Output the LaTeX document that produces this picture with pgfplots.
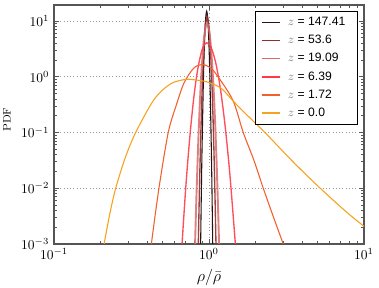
\documentclass[border=0pt]{standalone}
\usepackage[no-math]{fontspec}
\usepackage{pgfplots}
\pgfplotsset{compat=1.18}
\newfontfamily\legendfont{Liberation Sans}
\definecolor{cA}{HTML}{2A1212}
\definecolor{cB}{HTML}{8E2E2E}
\definecolor{cC}{HTML}{D86A6A}
\definecolor{cD}{HTML}{FF3A48}
\definecolor{cE}{HTML}{F2602E}
\definecolor{cF}{HTML}{F7A21E}
\definecolor{frame}{HTML}{555555}
\begin{document}
\begin{tikzpicture}
\begin{axis}[
  scale only axis, width=229.6pt, height=177pt,
  xmode=log, ymode=log,
  xmin=0.1, xmax=10, ymin=1e-3, ymax=19.4,
  axis line style={frame, line width=0.9pt},
  tick style={frame, line width=0.6pt},
  major tick length=3.5pt, minor tick length=2pt,
  tick pos=both, tick align=inside,
  grid=major, major grid style={dotted, gray!80, line width=0.6pt},
  ytick={1e-3,1e-2,1e-1,1,10},
  xtick={0.1,1,10},
  tick label style={font=\normalsize},
  xlabel={$\rho/\bar{\rho}$},
  ylabel={$\mathrm{PDF}$},
  xlabel style={font=\large, at={(axis description cs:0.5,-0.14)}, anchor=center},
  ylabel style={font=\footnotesize, at={(axis description cs:-0.152,0.52)}, anchor=center},
  legend cell align=left,
  legend image code/.code={\draw[#1, line width=1.1pt, opacity=1] (0pt,0pt) -- (14pt,0pt);},
  legend style={at={(axis description cs:0.981,0.976)}, anchor=north east,
    draw=black, line width=1pt, fill=white, font=\legendfont\small,
    inner xsep=4pt, inner ysep=2.5pt, row sep=1.6pt,
    nodes={inner xsep=5pt}},
]
\addplot[cA, line width=0.8pt, smooth] coordinates {
(0.8831,0.001) (0.8913,0.006501) (0.9016,0.05070) (0.9226,1.197) (0.9441,7.968)
(0.9661,15) (0.9886,7.968) (1.0116,1.197) (1.0351,0.0507) (1.0471,0.006501) (1.0568,0.001)};
\addlegendentry{\textcolor{gray}{$z$} = 147.41}
\addplot[cB, line width=1pt, opacity=0.9, smooth] coordinates {
(0.8531,0.001) (0.8670,0.00871) (0.8831,0.07311) (0.9078,0.8892) (0.9397,6.258)
(0.9727,12) (1.0069,6.258) (1.0423,0.8892) (1.0715,0.07311) (1.0914,0.00871) (1.1092,0.001)};
\addlegendentry{\textcolor{gray}{$z$} = 53.6}
\addplot[cC, line width=1.4pt, opacity=0.85, smooth] coordinates {
(0.8128,0.001) (0.8318,0.009016) (0.8560,0.09183) (0.8861,0.7962) (0.9279,4.909)
(0.9716,9.0) (1.0174,4.909) (1.0654,0.7962) (1.1029,0.09183) (1.1350,0.009016) (1.1614,0.001)};
\addlegendentry{\textcolor{gray}{$z$} = 19.09}
\addplot[cD, line width=1pt, opacity=0.9, smooth] coordinates {
(0.6699,0.001) (0.7079,0.01023) (0.7499,0.0762) (0.7943,0.3784) (0.8414,1.247)
(0.9016,3.030) (0.9661,4.074) (1.0351,3.273) (1.1092,1.698) (1.1885,0.5689)
(1.2735,0.1233) (1.3646,0.01722) (1.4791,0.001)};
\addlegendentry{\textcolor{gray}{$z$} = 6.39}
\addplot[cE, line width=0.8pt, smooth] coordinates {
(0.4246,0.001) (0.4753,0.01) (0.5458,0.1) (0.6166,0.3162) (0.6902,0.7762)
(0.7943,1.4125) (0.8974,1.6596) (1.0233,1.4454) (1.1776,0.8913) (1.4355,0.3631)
(1.6634,0.1) (1.9498,0.03162) (2.2387,0.01) (2.6303,0.002818) (3.0130,0.001)};
\addlegendentry{\textcolor{gray}{$z$} = 1.72}
\addplot[cF, line width=0.8pt, smooth] coordinates {
(0.2104,0.001) (0.2291,0.003467) (0.2500,0.01) (0.2884,0.03548) (0.3365,0.1)
(0.4416,0.3890) (0.5623,0.7413) (0.7079,0.8974) (0.8318,0.8710) (0.9661,0.8128)
(1.1220,0.6918) (1.2359,0.5754) (1.4355,0.3631) (1.7783,0.1995) (2.2961,0.1)
(3.1623,0.03926) (3.9811,0.02061) (5.0119,0.01112) (6.3096,0.006152)
(7.9433,0.003483) (10,0.002070)};
\addlegendentry{\textcolor{gray}{$z$} = 0.0}
\end{axis}
\pgfresetboundingbox
\path (-40pt,-32.6pt) rectangle (240.7pt,180.7pt);
\end{tikzpicture}
\end{document}
